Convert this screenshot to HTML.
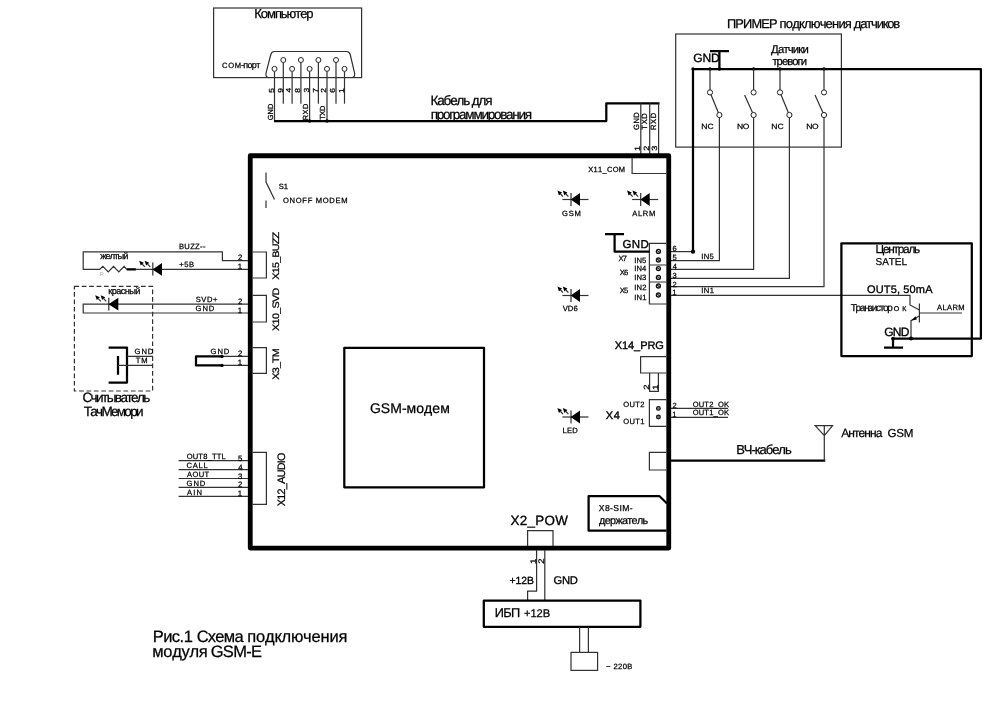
<!DOCTYPE html>
<html lang="ru">
<head>
<meta charset="utf-8">
<title>Рис.1 Схема подключения модуля GSM-E</title>
<style>
html,body{margin:0;padding:0;background:#fff;}
body{width:1000px;height:706px;overflow:hidden;}
svg{display:block;}
text{font-family:"Liberation Sans", sans-serif;fill:#000;stroke:#000;stroke-width:0.25px;font-kerning:none;text-rendering:geometricPrecision;white-space:pre;}
.t{fill:none;stroke:#303030;stroke-width:1.2;}
.k{fill:none;stroke:#000;stroke-width:2.25;stroke-linejoin:round;}
</style>
</head>
<body>
<svg width="1000" height="706" viewBox="0 0 1000 706">
<defs><filter id="soft" x="0" y="0" width="1000" height="706" filterUnits="userSpaceOnUse"><feGaussianBlur stdDeviation="0.25"/></filter></defs>
<rect x="0" y="0" width="1000" height="706" fill="#fff"/>
<g filter="url(#soft)">
<rect class="t" x="213.6" y="8" width="148" height="69.6"/>
<text font-size="13" letter-spacing="-1.063" transform="translate(254.33 18.20)">Компьютер</text>
<text y="67.8"><tspan x="222.01" font-size="7.6" letter-spacing="0.739">COM</tspan><tspan x="240.90" font-size="9" letter-spacing="-0.637">-порт</tspan></text>
<path class="t" d="M269,77.6 Q265.3,77.6 266,73 L270.8,54.5 Q271.6,51.5 274.5,51.5 H346.5 Q349.4,51.5 350.2,54.5 L354.6,73 Q355.3,77.6 351.6,77.6"/>
<path class="t" d="M283.3,62.5 V103.7"/>
<path class="t" d="M300.9,62.5 V103.7"/>
<path class="t" d="M318.4,62.5 V103.7"/>
<path class="t" d="M336,62.5 V103.7"/>
<path class="t" d="M274.5,71.4 V121"/>
<path class="t" d="M292.1,71.4 V103.7"/>
<path class="t" d="M309.6,71.4 V121"/>
<path class="t" d="M327,71.4 V121"/>
<path class="t" d="M344.5,71.4 V103.7"/>
<circle cx="283.3" cy="60" r="2.5" fill="#fff" stroke="#222" stroke-width="1"/>
<circle cx="300.9" cy="60" r="2.5" fill="#fff" stroke="#222" stroke-width="1"/>
<circle cx="318.4" cy="60" r="2.5" fill="#fff" stroke="#222" stroke-width="1"/>
<circle cx="336" cy="60" r="2.5" fill="#fff" stroke="#222" stroke-width="1"/>
<circle cx="274.5" cy="68.9" r="2.5" fill="#fff" stroke="#222" stroke-width="1"/>
<circle cx="292.1" cy="68.9" r="2.5" fill="#fff" stroke="#222" stroke-width="1"/>
<circle cx="309.6" cy="68.9" r="2.5" fill="#fff" stroke="#222" stroke-width="1"/>
<circle cx="327" cy="68.9" r="2.5" fill="#fff" stroke="#222" stroke-width="1"/>
<circle cx="344.5" cy="68.9" r="2.5" fill="#fff" stroke="#222" stroke-width="1"/>
<text font-size="7.3" transform="translate(273.80 92.64) rotate(-90) scale(1.15 1)">5</text>
<text font-size="7.3" transform="translate(282.60 92.69) rotate(-90) scale(1.15 1)">9</text>
<text font-size="7.3" transform="translate(291.40 92.49) rotate(-90) scale(1.15 1)">4</text>
<text font-size="7.3" transform="translate(300.20 92.66) rotate(-90) scale(1.15 1)">8</text>
<text font-size="7.3" transform="translate(308.90 92.62) rotate(-90) scale(1.15 1)">3</text>
<text font-size="7.3" transform="translate(317.70 92.73) rotate(-90) scale(1.15 1)">7</text>
<text font-size="7.3" transform="translate(326.30 92.72) rotate(-90) scale(1.15 1)">2</text>
<text font-size="7.3" transform="translate(335.30 92.73) rotate(-90) scale(1.15 1)">6</text>
<text font-size="7.3" transform="translate(343.80 92.94) rotate(-90) scale(1.15 1)">1</text>
<text font-size="7.4" letter-spacing="0.191" transform="translate(272.80 120.37) rotate(-90)">GND</text>
<text font-size="7.4" letter-spacing="0.519" transform="translate(307.60 120.31) rotate(-90)">RXD</text>
<text font-size="7.4" letter-spacing="-0.340" transform="translate(325.00 119.87) rotate(-90)">TXD</text>
<path class="k" d="M274,121 H606.3 V103.4 H659.5"/>
<circle cx="309.6" cy="121" r="1.8" fill="#000"/>
<circle cx="327" cy="121" r="1.8" fill="#000"/>
<text font-size="13.5" letter-spacing="-1.144" transform="translate(430.49 104.80)">Кабель для</text>
<text font-size="13.5" letter-spacing="-1.260" transform="translate(430.66 119.20)">программирования</text>
<path class="t" d="M640.8,103.4 V155"/>
<path class="t" d="M649.7,103.4 V155"/>
<path class="t" d="M658.6,103.4 V155"/>
<text font-size="7.6" letter-spacing="0.429" transform="translate(638.80 129.88) rotate(-90)">GND</text>
<text font-size="7.6" letter-spacing="0.667" transform="translate(647.30 129.67) rotate(-90)">TXD</text>
<text font-size="7.6" letter-spacing="0.721" transform="translate(656.20 130.12) rotate(-90)">RXD</text>
<text font-size="7.6" transform="translate(639.60 150.99) rotate(-90) scale(1.2 1)">1</text>
<text font-size="7.6" transform="translate(648.60 150.76) rotate(-90) scale(1.2 1)">2</text>
<text font-size="7.6" transform="translate(657.40 150.65) rotate(-90) scale(1.2 1)">3</text>
<rect class="t" x="675.7" y="34" width="165.7" height="113.1"/>
<text y="27.5"><tspan x="726.96" font-size="12.8" letter-spacing="-0.793">ПРИМЕР </tspan><tspan x="779.60" font-size="13" letter-spacing="-0.806">подключения </tspan><tspan x="853.87" font-size="13" letter-spacing="-1.177">датчиков</tspan></text>
<text font-size="11.3" letter-spacing="-0.817" transform="translate(771.12 52.60)">Датчики</text>
<text font-size="11.3" letter-spacing="-0.982" transform="translate(772.41 65.00)">тревоги</text>
<text font-size="12" letter-spacing="-0.044" transform="translate(693.20 62.30)" style="stroke-width:0.36px">GND</text>
<path class="k" d="M710,51 H729 M719.4,51 V69"/>
<path class="k" d="M693,251.6 V69 H980.9 V338.6 H893 V347.6 M884,347.6 H903"/>
<circle cx="693" cy="69" r="1.7" fill="#000"/>
<circle cx="710" cy="69" r="1.7" fill="#000"/>
<circle cx="719.4" cy="69" r="1.7" fill="#000"/>
<circle cx="753.6" cy="69" r="1.7" fill="#000"/>
<circle cx="780" cy="69" r="1.7" fill="#000"/>
<circle cx="824" cy="69" r="1.7" fill="#000"/>
<path class="t" d="M710,69 V90"/>
<path class="t" d="M711,94.7 L718.4,112.7"/>
<circle cx="710" cy="92.4" r="2.6" fill="#fff" stroke="#222" stroke-width="1"/>
<circle cx="719.4" cy="115" r="2.6" fill="#fff" stroke="#222" stroke-width="1"/>
<path class="t" d="M753.6,69 V90"/>
<path class="t" d="M744.6,95 L752.6,112.7"/>
<circle cx="753.6" cy="92.4" r="2.6" fill="#fff" stroke="#222" stroke-width="1"/>
<circle cx="753.6" cy="115" r="2.6" fill="#fff" stroke="#222" stroke-width="1"/>
<path class="t" d="M780,69 V90"/>
<path class="t" d="M781,94.7 L788.4,112.7"/>
<circle cx="780" cy="92.4" r="2.6" fill="#fff" stroke="#222" stroke-width="1"/>
<circle cx="789.4" cy="115" r="2.6" fill="#fff" stroke="#222" stroke-width="1"/>
<path class="t" d="M824,69 V90"/>
<path class="t" d="M815,95 L823,112.7"/>
<circle cx="824" cy="92.4" r="2.6" fill="#fff" stroke="#222" stroke-width="1"/>
<circle cx="824" cy="115" r="2.6" fill="#fff" stroke="#222" stroke-width="1"/>
<text font-size="7.6" letter-spacing="0.025" transform="translate(701.30 128.50) scale(1.12 1)">NC</text>
<text font-size="7.6" letter-spacing="-0.324" transform="translate(736.90 128.50) scale(1.12 1)">NO</text>
<text font-size="7.6" letter-spacing="0.025" transform="translate(771.30 128.50) scale(1.12 1)">NC</text>
<text font-size="7.6" letter-spacing="-0.324" transform="translate(806.30 128.50) scale(1.12 1)">NO</text>
<path class="t" d="M719.4,117.4 V260.6 H671"/>
<path class="t" d="M753.6,117.4 V269.4 H671"/>
<path class="t" d="M789.4,117.4 V278.4 H671"/>
<path class="t" d="M824,117.4 V286.6 H671"/>
<path class="t" d="M671,251.6 H693"/>
<circle cx="693" cy="251.6" r="2.2" fill="#000"/>
<path class="t" d="M671,295.4 H910 V305 L919.4,310"/>
<text font-size="7.6" letter-spacing="0.347" transform="translate(701.30 258.60)">IN5</text>
<text font-size="7.6" letter-spacing="0.373" transform="translate(701.30 293.00)">IN1</text>
<text font-size="7.5" transform="translate(672.42 251.40)">6</text>
<text font-size="7.5" transform="translate(672.50 260.20)">5</text>
<text font-size="7.5" transform="translate(672.63 269.00)">4</text>
<text font-size="7.5" transform="translate(672.51 277.80)">3</text>
<text font-size="7.5" transform="translate(672.42 286.60)">2</text>
<text font-size="7.5" transform="translate(672.23 295.40)">1</text>
<rect class="k" stroke-width="2.1" x="841.4" y="243.3" width="130.4" height="112.8"/>
<text font-size="11.8" letter-spacing="-1.217" transform="translate(875.43 252.60)">Централь</text>
<text font-size="10" letter-spacing="-0.073" transform="translate(875.55 264.70)">SATEL</text>
<text font-size="11" letter-spacing="0.151" transform="translate(866.98 292.60)" style="stroke-width:0.33px">OUT5, 50mA</text>
<text y="311"><tspan x="850.78" font-size="10" letter-spacing="-1.287">Транзистор </tspan><tspan x="893.67" font-size="7" letter-spacing="3.250">ОК</tspan></text>
<text font-size="7.6" letter-spacing="0.363" transform="translate(936.99 310.40)">ALARM</text>
<path class="t" d="M919.4,303.5 V322.5"/>
<path class="t" d="M919.4,313 H962"/>
<path class="t" d="M919.4,316 L911,320.5 V338.6"/>
<path d="M911,320.8 L915.6,316.2 L916.8,319.6 Z" fill="#000"/>
<circle cx="911" cy="338.6" r="2" fill="#000"/>
<circle cx="893" cy="338.6" r="1.9" fill="#000"/>
<text font-size="12" letter-spacing="-0.744" transform="translate(884.20 335.60)" style="stroke-width:0.36px">GND</text>
<rect x="250.25" y="155.75" width="418.5" height="392.35" fill="none" stroke="#000" stroke-width="4.8" stroke-linejoin="round"/>
<path class="t" d="M632.1,158 V173.5 H666.5"/>
<text font-size="7.5" letter-spacing="0.295" transform="translate(588.23 171.60)">X11_COM</text>
<path class="t" d="M266,172.5 V182 L274.5,199.5 M266,200.5 V208"/>
<text font-size="7.6" letter-spacing="-0.080" transform="translate(278.65 188.60)">S1</text>
<text font-size="7.6" letter-spacing="0.664" transform="translate(283.04 202.60)">ONOFF MODEM</text>
<path class="t" d="M252.5,252 H266.4 V278 H252.5"/>
<path class="t" d="M252.5,295.4 H266.4 V322 H252.5"/>
<path class="t" d="M252.5,347.6 H266.4 V373.4 H252.5"/>
<path class="t" d="M252.5,452.4 H266.4 V504.4 H252.5"/>
<text font-size="9.4" letter-spacing="-0.669" transform="translate(279.00 279.74) rotate(-90) scale(1.15 1)">X15_BUZZ</text>
<text font-size="9.4" letter-spacing="-0.596" transform="translate(278.60 330.94) rotate(-90) scale(1.15 1)">X10_SVD</text>
<text font-size="9.4" letter-spacing="-0.720" transform="translate(279.20 379.64) rotate(-90) scale(1.15 1)">X3_TM</text>
<text font-size="10.8" letter-spacing="-0.708" transform="translate(285.30 506.24) rotate(-90)">X12_AUDIO</text>
<rect class="k" stroke-width="2.1" x="344.3" y="347.9" width="139.7" height="139.4"/>
<text font-size="14" letter-spacing="0.041" transform="translate(369.90 412.60)">GSM-модем</text>
<path class="t" d="M562.4,199.5 H588.5"/>
<path class="t" d="M571,193.1 V205.9"/>
<path d="M570.7,199.5 L580,193.1 V205.9 Z" fill="#000"/>
<path class="t" stroke-width="1.5" d="M563.00,196.70 L560.51,193.99"/>
<path d="M557.40,190.60 L562.06,192.57 L558.96,195.41 Z" fill="#000"/>
<path class="t" stroke-width="1.5" d="M568.40,196.70 L565.91,193.99"/>
<path d="M562.80,190.60 L567.46,192.57 L564.36,195.41 Z" fill="#000"/>
<text font-size="7.6" letter-spacing="0.747" transform="translate(562.02 215.60)">GSM</text>
<path class="t" d="M632.1,199.5 H658.2"/>
<path class="t" d="M640.7,193.1 V205.9"/>
<path d="M640.4000000000001,199.5 L649.7,193.1 V205.9 Z" fill="#000"/>
<path class="t" stroke-width="1.5" d="M632.70,196.70 L630.21,193.99"/>
<path d="M627.10,190.60 L631.76,192.57 L628.66,195.41 Z" fill="#000"/>
<path class="t" stroke-width="1.5" d="M638.10,196.70 L635.61,193.99"/>
<path d="M632.50,190.60 L637.16,192.57 L634.06,195.41 Z" fill="#000"/>
<text font-size="7.6" letter-spacing="0.641" transform="translate(632.29 215.60)">ALRM</text>
<path class="t" d="M562.4,295.5 H588.5"/>
<path class="t" d="M571,289.1 V301.9"/>
<path d="M570.7,295.5 L580,289.1 V301.9 Z" fill="#000"/>
<path class="t" stroke-width="1.5" d="M563.00,292.70 L560.51,289.99"/>
<path d="M557.40,286.60 L562.06,288.57 L558.96,291.41 Z" fill="#000"/>
<path class="t" stroke-width="1.5" d="M568.40,292.70 L565.91,289.99"/>
<path d="M562.80,286.60 L567.46,288.57 L564.36,291.41 Z" fill="#000"/>
<text font-size="7.6" letter-spacing="0.092" transform="translate(562.67 311.20)">VD6</text>
<path class="t" d="M562.4,417 H588.5"/>
<path class="t" d="M571,410.6 V423.4"/>
<path d="M570.7,417 L580,410.6 V423.4 Z" fill="#000"/>
<path class="t" stroke-width="1.5" d="M563.00,414.20 L560.51,411.49"/>
<path d="M557.40,408.10 L562.06,410.07 L558.96,412.91 Z" fill="#000"/>
<path class="t" stroke-width="1.5" d="M568.40,414.20 L565.91,411.49"/>
<path d="M562.80,408.10 L567.46,410.07 L564.36,412.91 Z" fill="#000"/>
<text font-size="7.6" letter-spacing="0.201" transform="translate(562.58 433.40)">LED</text>
<path class="t" d="M666.5,243.4 H649.4 V304 H666.5 M649.4,265 H666.5 M649.4,282 H666.5"/>
<circle cx="658.4" cy="251.4" r="2" fill="#fff" stroke="#111" stroke-width="1.3"/>
<path class="t" stroke-width="1" d="M656.9,250.1 L659.9,252.70000000000002"/>
<circle cx="658.4" cy="260" r="2" fill="#fff" stroke="#111" stroke-width="1.3"/>
<path class="t" stroke-width="1" d="M656.9,258.7 L659.9,261.3"/>
<circle cx="658.4" cy="268.6" r="2" fill="#fff" stroke="#111" stroke-width="1.3"/>
<path class="t" stroke-width="1" d="M656.9,267.3 L659.9,269.90000000000003"/>
<circle cx="658.4" cy="277.4" r="2" fill="#fff" stroke="#111" stroke-width="1.3"/>
<path class="t" stroke-width="1" d="M656.9,276.09999999999997 L659.9,278.7"/>
<circle cx="658.4" cy="286" r="2" fill="#fff" stroke="#111" stroke-width="1.3"/>
<path class="t" stroke-width="1" d="M656.9,284.7 L659.9,287.3"/>
<circle cx="658.4" cy="295" r="2" fill="#fff" stroke="#111" stroke-width="1.3"/>
<path class="t" stroke-width="1" d="M656.9,293.7 L659.9,296.3"/>
<path class="k" d="M605,234 H624 M614.6,234 V251.6 H649.4"/>
<text font-size="11.5" letter-spacing="0.387" transform="translate(622.42 248.00)" style="stroke-width:0.36px">GND</text>
<text font-size="7.6" letter-spacing="-0.743" transform="translate(618.43 260.60)">X7</text>
<text font-size="7.6" letter-spacing="-0.791" transform="translate(619.83 275.40)">X6</text>
<text font-size="7.6" letter-spacing="-0.806" transform="translate(619.83 293.00)">X5</text>
<text font-size="7.6" letter-spacing="0.097" transform="translate(634.30 262.60)">IN5</text>
<text font-size="7.6" letter-spacing="0.049" transform="translate(634.30 271.40)">IN4</text>
<text font-size="7.6" letter-spacing="0.104" transform="translate(634.30 280.40)">IN3</text>
<text font-size="7.6" letter-spacing="0.128" transform="translate(634.30 290.40)">IN2</text>
<text font-size="7.6" letter-spacing="0.123" transform="translate(634.30 300.40)">IN1</text>
<text font-size="11" letter-spacing="-0.076" transform="translate(614.75 349.20)" style="stroke-width:0.36px">X14_PRG</text>
<path class="t" d="M666.5,356.6 H640.6 V373 H666.5"/>
<path class="t" d="M649.6,373 V391.4 H658.4 V373"/>
<text font-size="7.6" transform="translate(648.80 389.68) rotate(-90) scale(1.25 1)">2</text>
<text font-size="7.6" transform="translate(657.60 389.92) rotate(-90) scale(1.25 1)">1</text>
<path class="t" d="M666.5,399.6 H649.4 V426.4 H666.5"/>
<circle cx="658.4" cy="408.4" r="1.9" fill="#777" stroke="#111" stroke-width="1.1"/>
<circle cx="658.4" cy="417" r="1.9" fill="#777" stroke="#111" stroke-width="1.1"/>
<text font-size="7.6" letter-spacing="0.324" transform="translate(623.24 407.20)">OUT2</text>
<text font-size="7.6" letter-spacing="0.321" transform="translate(623.24 423.70)">OUT1</text>
<text font-size="11" letter-spacing="0.715" transform="translate(605.75 418.60)" style="stroke-width:0.36px">X4</text>
<path class="t" d="M671,408.4 H728 M671,417.4 H728"/>
<text font-size="7.6" letter-spacing="0.161" transform="translate(692.64 406.60)">OUT2_OK</text>
<text font-size="7.6" letter-spacing="0.161" transform="translate(692.64 414.60)">OUT1_OK</text>
<text font-size="7.5" transform="translate(672.42 408.20)">2</text>
<text font-size="7.5" transform="translate(672.23 417.00)">1</text>
<path class="t" d="M666.5,452.4 H649.4 V470 H666.5"/>
<path class="k" d="M671,460.7 H825.3"/>
<path class="t" d="M824.3,460.7 V425.6 M815.2,425.6 H832.6 L824.3,435.7 Z"/>
<text y="436.6"><tspan x="841.18" font-size="12" letter-spacing="-0.918">Антенна </tspan><tspan x="887.42" font-size="11.6" letter-spacing="-0.144">GSM</tspan></text>
<text font-size="13" letter-spacing="-1.002" transform="translate(736.13 454.20)">ВЧ-кабель</text>
<path class="k" stroke-width="2.2" d="M666.5,530.7 H588.6 V496 H659.3 L667,503.5"/>
<text font-size="8.6" letter-spacing="0.390" transform="translate(598.81 511.00)">X8-SIM-</text>
<text font-size="10.8" letter-spacing="-0.660" transform="translate(599.09 524.20)">держатель</text>
<text font-size="13.4" letter-spacing="0.339" transform="translate(510.50 525.00)" style="stroke-width:0.33px">X2_POW</text>
<path class="t" d="M527.6,546 V530.6 H553 V546"/>
<path class="t" d="M536.6,550 V591.2 H527.6 V600 M544.8,550 V600"/>
<text font-size="8" transform="translate(535.60 563.93) rotate(-90) scale(1.2 1)">1</text>
<text font-size="8" transform="translate(544.40 563.68) rotate(-90) scale(1.2 1)">2</text>
<text font-size="10.4" letter-spacing="-0.074" transform="translate(509.49 584.40)" style="stroke-width:0.33px">+12В</text>
<text font-size="11.2" letter-spacing="-0.195" transform="translate(553.44 584.40)" style="stroke-width:0.33px">GND</text>
<rect class="k" stroke-width="2.2" x="483.8" y="600.5" width="156.6" height="26.3"/>
<text y="616.6"><tspan x="494.65" font-size="12.8" letter-spacing="-0.619">ИБП </tspan><tspan x="523.95" font-size="11.2" letter-spacing="-0.044">+12В</tspan></text>
<path class="t" d="M579.6,627 V652.4 M588.4,627 V652.4"/>
<rect class="t" x="571" y="652.4" width="26.6" height="18"/>
<text font-size="7.6" letter-spacing="0.409" transform="translate(606.06 668.60)">~ 220В</text>
<path class="t" d="M248,260.6 H222.4 V251.8 H83.2 V269.4 H99.7 L102.8,266.3 L108.2,271.8 L113.5,266.3 L118.8,271.8 L124.1,266.3 L126.8,269.4 H152.8"/>
<path class="k" d="M126.8,269.4 H135.8"/>
<path class="t" d="M248,269.4 H152.8"/>
<path class="t" d="M152.8,262.6 V275.6"/>
<path d="M152.5,269.4 L162,263 V275.8 Z" fill="#000"/>
<path class="t" stroke-width="1.5" d="M144.80,266.80 L142.31,264.09"/>
<path d="M139.20,260.70 L143.86,262.67 L140.76,265.51 Z" fill="#000"/>
<path class="t" stroke-width="1.5" d="M150.20,266.80 L147.71,264.09"/>
<path d="M144.60,260.70 L149.26,262.67 L146.16,265.51 Z" fill="#000"/>
<text font-size="7.6" letter-spacing="0.311" transform="translate(178.98 249.40)">BUZZ--</text>
<text font-size="7.6" letter-spacing="0.519" transform="translate(179.23 266.60)">+5В</text>
<text font-size="9.2" letter-spacing="-0.907" transform="translate(100.27 259.30)">желтый</text>
<text font-size="5.5" transform="translate(99.75 275.80)" style="fill:#aaa;stroke:none">R</text>
<text font-size="7.8" transform="translate(238.01 260.30)">2</text>
<text font-size="7.8" transform="translate(237.81 269.10)">1</text>
<rect class="t" x="74.4" y="286.4" width="78.2" height="104.6" stroke-width="1.1" stroke-dasharray="4.7 2.7"/>
<path class="t" d="M248,304.2 H83.2 V313 H248"/>
<path class="t" d="M108.8,297.8 V310.6"/>
<path d="M108.5,304.2 L118.3,297.8 V310.6 Z" fill="#000"/>
<path class="t" stroke-width="1.5" d="M100.80,301.40 L98.31,298.69"/>
<path d="M95.20,295.30 L99.86,297.27 L96.76,300.11 Z" fill="#000"/>
<path class="t" stroke-width="1.5" d="M106.20,301.40 L103.71,298.69"/>
<path d="M100.60,295.30 L105.26,297.27 L102.16,300.11 Z" fill="#000"/>
<text font-size="9.2" letter-spacing="-0.572" transform="translate(108.18 294.40)">красный</text>
<text font-size="7.6" letter-spacing="0.552" transform="translate(195.65 302.00)">SVD+</text>
<text font-size="7.6" letter-spacing="0.929" transform="translate(195.62 310.60)">GND</text>
<text font-size="7.8" transform="translate(238.01 304.20)">2</text>
<text font-size="7.8" transform="translate(237.81 312.90)">1</text>
<path class="k" d="M108.6,347.6 H127 V382.6 H108.6 M118,356 V374.8"/>
<path class="t" d="M127,356.4 H153 M118,365.4 H153"/>
<text font-size="7.6" letter-spacing="0.929" transform="translate(134.62 353.70)">GND</text>
<text font-size="7.6" letter-spacing="0.821" transform="translate(135.83 362.60)">TM</text>
<text font-size="13.5" letter-spacing="-1.555" transform="translate(82.41 402.10)">Считыватель</text>
<text font-size="13.5" letter-spacing="-1.693" transform="translate(83.70 415.60)">ТачМемори</text>
<path class="k" d="M222,356.4 H196 V365.4 H222"/>
<path class="t" d="M222,356.4 H248 M222,365.4 H248"/>
<circle cx="222" cy="356.4" r="1.7" fill="#000"/>
<circle cx="222" cy="365.4" r="1.7" fill="#000"/>
<text font-size="7.6" letter-spacing="0.929" transform="translate(210.62 354.40)">GND</text>
<text font-size="7.8" transform="translate(238.01 356.20)">2</text>
<text font-size="7.8" transform="translate(237.81 365.20)">1</text>
<path class="t" stroke-width="1.7" d="M178.6,460.60 H248"/>
<text font-size="7.6" letter-spacing="0.172" transform="translate(186.64 458.70)">OUT8_TTL</text>
<text font-size="7.8" transform="translate(238.09 460.60)">5</text>
<path class="t" stroke-width="1.7" d="M178.6,469.55 H248"/>
<text font-size="7.6" letter-spacing="0.676" transform="translate(186.61 467.65)">CALL</text>
<text font-size="7.8" transform="translate(238.22 469.55)">4</text>
<path class="t" stroke-width="1.7" d="M178.6,478.50 H248"/>
<text font-size="7.6" letter-spacing="0.359" transform="translate(186.99 476.60)">AOUT</text>
<text font-size="7.8" transform="translate(238.10 478.50)">3</text>
<path class="t" stroke-width="1.7" d="M178.6,487.45 H248"/>
<text font-size="7.6" letter-spacing="0.929" transform="translate(186.62 485.55)">GND</text>
<text font-size="7.8" transform="translate(238.01 487.45)">2</text>
<path class="t" stroke-width="1.7" d="M178.6,496.40 H248"/>
<text font-size="7.6" letter-spacing="1.183" transform="translate(186.99 494.50)">AIN</text>
<text font-size="7.8" transform="translate(237.81 496.40)">1</text>
<text y="642"><tspan x="152.65" font-size="16.5" letter-spacing="-0.518">Рис.1 </tspan><tspan x="196.66" font-size="16.5" letter-spacing="-0.731">Схема </tspan><tspan x="247.36" font-size="16.5" letter-spacing="-0.201">подключения</tspan></text>
<text y="657"><tspan x="152.26" font-size="16.5" letter-spacing="-0.314">модуля </tspan><tspan x="210.77" font-size="16.5" letter-spacing="-0.736">GSM-E</tspan></text>
</g>
</svg>
</body>
</html>
